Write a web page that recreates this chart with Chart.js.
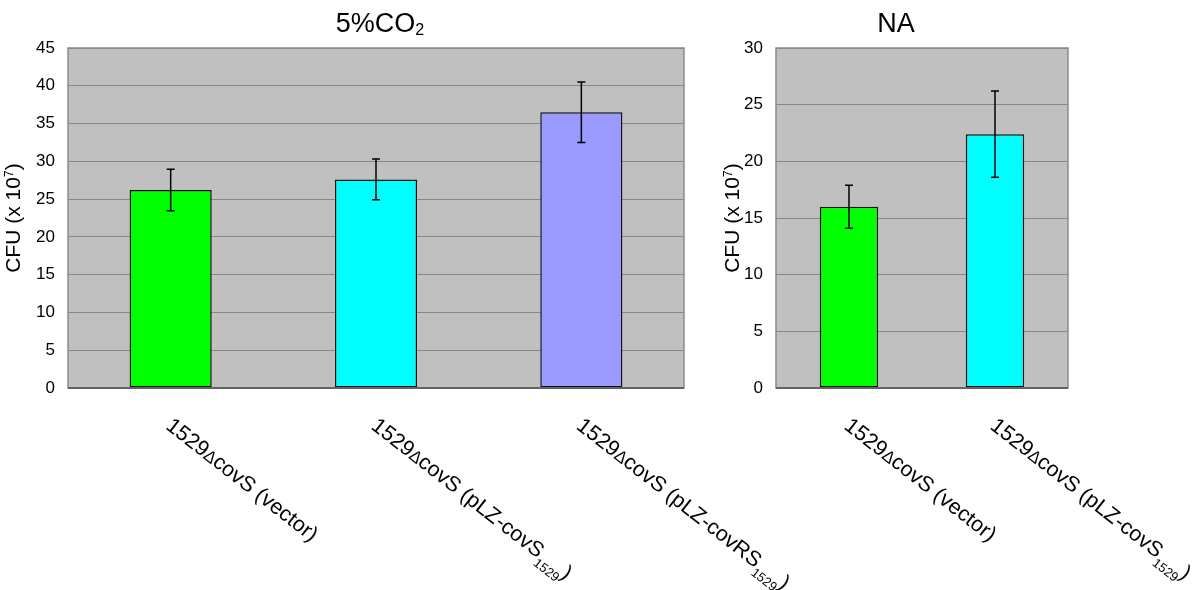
<!DOCTYPE html>
<html>
<head>
<meta charset="utf-8">
<script src="https://cdn.jsdelivr.net/npm/chart.js@4.4.0/dist/chart.umd.min.js"></script>
<style>
body { margin:0; background:#fff; }
#gauche { position:absolute; left:0; top:0; }
#droite { position:absolute; left:700px; top:0; }
</style>
</head>
<body>
<canvas id="gauche" width="820" height="590"></canvas>
<canvas id="droite" width="500" height="590"></canvas>
<script>
// Données
const labelsCO2 = ['1529ΔcovS (vector)', '1529ΔcovS (pLZ-covS₁₅₂₉)', '1529ΔcovS (pLZ-covRS₁₅₂₉)'];
const valeursCO2 = [26.2, 27.6, 36.5];
const erreursCO2 = [2.75, 2.7, 4.0];
const couleursCO2 = ['#00ff00', '#00ffff', '#9999ff'];

const labelsNA = ['1529ΔcovS (vector)', '1529ΔcovS (pLZ-covS₁₅₂₉)'];
const valeursNA = [16.0, 22.4];
const erreursNA = [1.9, 3.8];
const couleursNA = ['#00ff00', '#00ffff'];

const titreCO2 = '5%CO₂';
const titreNA = 'NA';
const titreY = 'CFU (x 10⁷)';

const POLICE = '"Liberation Sans", Arial, sans-serif';
const SUB = '₀₁₂₃₄₅₆₇₈₉';
const SUP = '⁰¹²³⁴⁵⁶⁷⁸⁹';

// Fonctions
function decouper(texte){
    var morceaux = []
    for (const c of texte){
        var mode = 'n', ch = c
        if (SUB.indexOf(c) >= 0){ mode = 'sub'; ch = String(SUB.indexOf(c)) }
        else if (SUP.indexOf(c) >= 0){ mode = 'sup'; ch = String(SUP.indexOf(c)) }
        else if (c == 'Δ'){ mode = 'delta' }
        var dernier = morceaux[morceaux.length-1]
        if (dernier && dernier.mode == mode) dernier.t += ch
        else morceaux.push({t: ch, mode: mode})
    }
    return morceaux
}

function ecrireRiche(ctx, texte, x, y, taille, align, decalSub){
    var morceaux = decouper(texte)
    var police = function(m){
        var t = taille
        if (m.mode == 'sub' || m.mode == 'sup') t = taille * 0.6
        if (m.mode == 'delta') t = taille * 0.8
        return t + 'px ' + POLICE
    }
    var largeur = 0
    morceaux.forEach(m => { ctx.font = police(m); m.w = ctx.measureText(m.t).width; largeur += m.w })
    var x0 = align == 'center' ? x - largeur/2 : x
    ctx.textAlign = 'left'
    ctx.textBaseline = 'alphabetic'
    ctx.fillStyle = '#000'
    morceaux.forEach(m => {
        ctx.font = police(m)
        var dy = 0
        if (m.mode == 'sub') dy = taille * decalSub
        if (m.mode == 'sup') dy = -taille * 0.35
        ctx.fillText(m.t, x0, y + dy)
        x0 += m.w
    })
}

const pluginFigure = {
    id: 'figure',
    beforeDraw(chart){
        const a = chart.chartArea, ctx = chart.ctx
        ctx.save()
        ctx.fillStyle = '#c0c0c0'
        ctx.fillRect(a.left, a.top, a.right - a.left, a.bottom - a.top)
        ctx.restore()
    },
    afterDatasetsDraw(chart, args, opts){
        // barres d'erreur
        const ctx = chart.ctx, sx = chart.scales.x, sy = chart.scales.y
        const data = chart.data.datasets[0].data
        ctx.save()
        ctx.strokeStyle = '#000'
        ctx.lineWidth = 1.5
        opts.erreurs.forEach((e, i) => {
            var px = sx.getPixelForValue(i)
            var haut = sy.getPixelForValue(data[i] + e)
            var bas = sy.getPixelForValue(data[i] - e)
            ctx.beginPath()
            ctx.moveTo(px, haut); ctx.lineTo(px, bas)
            ctx.moveTo(px - 4, haut); ctx.lineTo(px + 4, haut)
            ctx.moveTo(px - 4, bas); ctx.lineTo(px + 4, bas)
            ctx.stroke()
        })
        ctx.restore()
    },
    afterDraw(chart, args, opts){
        const a = chart.chartArea, ctx = chart.ctx, sx = chart.scales.x
        ctx.save()
        // cadre
        ctx.strokeStyle = '#8c8c8c'
        ctx.lineWidth = 1.5
        ctx.strokeRect(a.left, a.top, a.right - a.left, a.bottom - a.top)
        ctx.strokeStyle = '#555'
        ctx.beginPath(); ctx.moveTo(a.left, a.bottom); ctx.lineTo(a.right, a.bottom); ctx.stroke()
        // titre
        ecrireRiche(ctx, opts.titre, opts.titreX, 32, 27, 'center', 0.1)
        // titre axe Y
        ctx.save()
        ctx.translate(opts.titreYX + 7, (a.top + a.bottom) / 2)
        ctx.rotate(-Math.PI / 2)
        ecrireRiche(ctx, titreY, 0, 0, 21, 'center', 0.3)
        ctx.restore()
        // étiquettes en biais
        chart.data.labels.forEach((lab, i) => {
            var px = sx.getPixelForValue(i)
            ctx.save()
            ctx.translate(px - 6, a.bottom + 40)
            ctx.rotate(38 * Math.PI / 180)
            ecrireRiche(ctx, lab, 0, 0, 21.5, 'left', 0.35)
            ctx.restore()
        })
        ctx.restore()
    }
}

function creerConfig(labels, valeurs, erreurs, couleurs, max, titre, titreX, titreYX, margeDroite, largeurY){
    return {
        type: 'bar',
        data: {
            labels: labels,
            datasets: [{
                data: valeurs,
                backgroundColor: couleurs,
                borderColor: '#111',
                borderWidth: 1.5,
                borderSkipped: false,
                barPercentage: 0.4,
                categoryPercentage: 1
            }]
        },
        options: {
            responsive: false,
            animation: false,
            devicePixelRatio: 1,
            layout: { padding: { top: 48, right: margeDroite, left: 0, bottom: 0 } },
            plugins: {
                legend: { display: false },
                tooltip: { enabled: false },
                figure: { erreurs: erreurs, titre: titre, titreX: titreX, titreYX: titreYX }
            },
            scales: {
                x: {
                    grid: { display: false },
                    border: { display: false },
                    ticks: { display: false },
                    afterFit: s => { s.height = 202 }
                },
                y: {
                    min: 0,
                    max: max,
                    ticks: { stepSize: 5, color: '#000', padding: 13, font: { size: 17, family: POLICE } },
                    grid: { color: '#878787', drawTicks: false },
                    border: { display: false },
                    afterFit: s => { s.width = largeurY }
                }
            }
        },
        plugins: [pluginFigure]
    }
}

window.onload = function(){
    // Graph 5%CO2
    var ctx1 = document.getElementById('gauche').getContext('2d')
    new Chart(ctx1, creerConfig(labelsCO2, valeursCO2, erreursCO2, couleursCO2, 45, titreCO2, 380, 13, 136, 68))
    // Graph NA
    var ctx2 = document.getElementById('droite').getContext('2d')
    new Chart(ctx2, creerConfig(labelsNA, valeursNA, erreursNA, couleursNA, 30, titreNA, 196, 32, 132, 76))
}
</script>
</body>
</html>
